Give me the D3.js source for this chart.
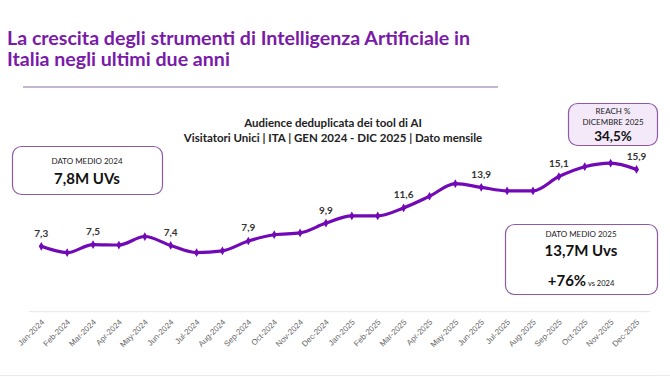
<!DOCTYPE html>
<html>
<head>
<meta charset="utf-8">
<script src="https://cdn.jsdelivr.net/npm/d3@7"></script>
<style>
  body { margin: 0; background: #fff; }
  svg { display: block; font-family: Lato, "Open Sans", sans-serif; }
  .title { fill: #7a1aa8; font-size: 19.6px; font-weight: 700; }
  .subtitle { fill: #222; font-size: 11.5px; font-weight: 700; }
  .point-label { fill: #333; font-size: 10px; font-weight: 700; }
  .tick-label { fill: #666; font-size: 8px; }
  .box-small { fill: #222; font-size: 8px; }
  .box-big { fill: #111; font-size: 15px; font-weight: 700; }
</style>
</head>
<body>
<div id="chart"></div>
<script>
const months = ["Jan-2024", "Feb-2024", "Mar-2024", "Apr-2024", "May-2024", "Jun-2024",
  "Jul-2024", "Aug-2024", "Sep-2024", "Oct-2024", "Nov-2024", "Dec-2024",
  "Jan-2025", "Feb-2025", "Mar-2025", "Apr-2025", "May-2025", "Jun-2025",
  "Jul-2025", "Aug-2025", "Sep-2025", "Oct-2025", "Nov-2025", "Dec-2025"];

// milioni di visitatori unici
const visitors = [7.3, 6.6, 7.5, 7.45, 8.4, 7.4, 6.6, 6.8, 7.9, 8.6, 8.8, 9.9,
  10.7, 10.7, 11.6, 12.9, 14.3, 13.9, 13.5, 13.5, 15.1, 16.2, 16.6, 15.9];

// mesi con etichetta del valore
const labelled = ["Jan-2024", "Mar-2024", "Jun-2024", "Sep-2024", "Dec-2024",
  "Mar-2025", "Jun-2025", "Sep-2025", "Dec-2025"];

const width = 670;
const height = 377;

const data = months.map((m, i) => ({ month: m, value: visitors[i] }));
const fmt = v => d3.format(".1f")(v).replace(".", ",");

const svg = d3.select("#chart")
  .append("svg")
  .attr("width", width)
  .attr("height", height);

// Title (two lines)
svg.append("text").attr("class", "title")
  .attr("x", 7).attr("y", 45)
  .text("La crescita degli strumenti di Intelligenza Artificiale in");
svg.append("text").attr("class", "title")
  .attr("x", 7).attr("y", 66)
  .text("Italia negli ultimi due anni");

svg.append("line")
  .attr("x1", 23).attr("x2", 498)
  .attr("y1", 87).attr("y2", 87)
  .attr("stroke", "#8a6fa3")
  .attr("stroke-width", 1);

// Chart subtitle
svg.append("text").attr("class", "subtitle")
  .attr("x", 333).attr("y", 127).attr("text-anchor", "middle")
  .text("Audience deduplicata dei tool di AI");
svg.append("text").attr("class", "subtitle")
  .attr("x", 333).attr("y", 142).attr("text-anchor", "middle")
  .text("Visitatori Unici | ITA | GEN 2024 - DIC 2025 | Dato mensile");

const x = d3.scalePoint()
  .domain(months)
  .range([41.3, 636.5]);

const y = d3.scaleLinear()
  .domain([0, 20])
  .range([311.7, 132.7]);

// baseline
svg.append("line")
  .attr("x1", 29).attr("x2", 650)
  .attr("y1", y(0)).attr("y2", y(0))
  .attr("stroke", "#e6e6e6")
  .attr("stroke-width", 1);

// x axis labels
const xAxis = d3.axisBottom(x).tickSize(0).tickPadding(0);
const gx = svg.append("g")
  .attr("transform", `translate(0, ${y(0)})`)
  .call(xAxis);
gx.select(".domain").remove();
gx.selectAll("text")
  .attr("class", "tick-label")
  .attr("fill", null)
  .attr("font-family", null)
  .attr("font-size", null)
  .attr("text-anchor", "end")
  .attr("dy", null)
  .attr("y", 0)
  .attr("transform", "translate(3, 11) rotate(-45)");

// line
const line = d3.line()
  .x(d => x(d.month))
  .y(d => y(d.value))
  .curve(d3.curveMonotoneX);

svg.append("path")
  .datum(data)
  .attr("fill", "none")
  .attr("stroke", "#7209b7")
  .attr("stroke-width", 3.2)
  .attr("stroke-linejoin", "round")
  .attr("d", line);

const diamond = d3.symbol().type(d3.symbolDiamond).size(22);
svg.selectAll(".marker")
  .data(data)
  .enter().append("path")
  .attr("class", "marker")
  .attr("transform", d => `translate(${x(d.month)}, ${y(d.value)})`)
  .attr("d", diamond)
  .attr("fill", "#7209b7");

svg.selectAll(".point-label")
  .data(data.filter(d => labelled.includes(d.month)))
  .enter().append("text")
  .attr("class", "point-label")
  .attr("x", d => x(d.month))
  .attr("y", d => y(d.value) - 9.5)
  .attr("text-anchor", "middle")
  .text(d => fmt(d.value));

// Info boxes
function box(bx, by, bw, bh, fill) {
  svg.append("rect")
    .attr("x", bx).attr("y", by)
    .attr("width", bw).attr("height", bh)
    .attr("rx", 9)
    .attr("fill", fill)
    .attr("stroke", "#8e5aa8")
    .attr("stroke-width", 1.2);
}

box(12.5, 146.5, 150, 48, "#fff");
svg.append("text").attr("class", "box-small")
  .attr("x", 87).attr("y", 164).attr("text-anchor", "middle")
  .text("DATO MEDIO 2024");
svg.append("text").attr("class", "box-big")
  .attr("x", 87).attr("y", 184).attr("text-anchor", "middle")
  .text("7,8M UVs");

box(568.5, 103.5, 89, 42, "#f4e9f9");
svg.append("text").attr("class", "box-small")
  .attr("x", 613).attr("y", 114).attr("text-anchor", "middle")
  .text("REACH %");
svg.append("text").attr("class", "box-small")
  .attr("x", 613).attr("y", 125).attr("text-anchor", "middle")
  .text("DICEMBRE 2025");
svg.append("text").attr("class", "box-big")
  .style("font-size", "13.5px")
  .attr("x", 613).attr("y", 141).attr("text-anchor", "middle")
  .text("34,5%");

box(505.5, 224.5, 152, 70, "#fff");
svg.append("text").attr("class", "box-small")
  .attr("x", 581).attr("y", 237).attr("text-anchor", "middle")
  .text("DATO MEDIO 2025");
svg.append("text").attr("class", "box-big")
  .attr("x", 581).attr("y", 256).attr("text-anchor", "middle")
  .text("13,7M Uvs");
const pct = svg.append("text").attr("class", "box-big")
  .attr("x", 581).attr("y", 286).attr("text-anchor", "middle");
pct.append("tspan").text("+76%");
pct.append("tspan").style("font-size", "7.5px").style("font-weight", 400)
  .text(" vs 2024");

// bordo inferiore della slide
svg.append("line")
  .attr("x1", 0).attr("x2", width)
  .attr("y1", 375.5).attr("y2", 375.5)
  .attr("stroke", "#efe6f5")
  .attr("stroke-width", 1);
</script>
</body>
</html>
